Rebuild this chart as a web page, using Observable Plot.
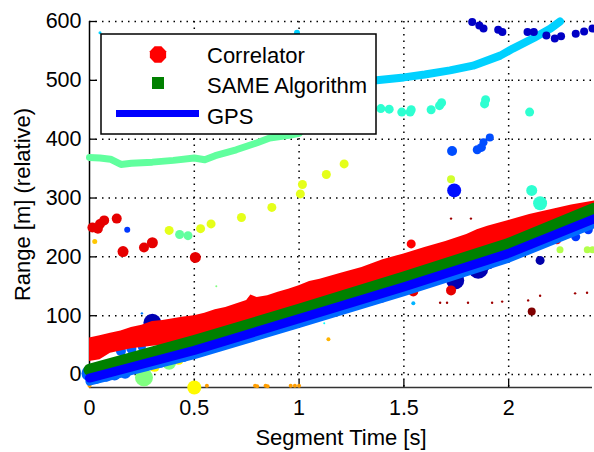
<!DOCTYPE html>
<html><head><meta charset="utf-8">
<script src="https://cdn.jsdelivr.net/npm/d3@7"></script>
<script src="https://cdn.jsdelivr.net/npm/@observablehq/plot@0.6"></script>
<style>
body{margin:0;background:#fff;}
#wrap{width:594px;height:452px;}
</style></head><body><div id="wrap"></div>
<script>
// ---------- axes ----------
const xDomain = [0, 2.4];
const yDomain = [-22, 600];
const xTicks = [0, 0.5, 1, 1.5, 2];
const xTickLabels = ["0", "0.5", "1", "1.5", "2"];
const yTicks = [0, 100, 200, 300, 400, 500, 600];
const yTickLabels = ["0", "100", "200", "300", "400", "500", "600"];
const xLabel = "Segment Time [s]";
const yLabel = "Range [m] (relative)";
const legendLabels = ["Correlator", "SAME Algorithm", "GPS"];

// jet colormap stops (level -> colour)
const jetStops = [0, 0.125, 0.375, 0.625, 0.875, 1];
const jetColors = ["#00008f", "#0000ff", "#00ffff", "#ffff00", "#ff0000", "#800000"];

// ---------- tracks ----------
const redX      = [0, 0.05, 0.1, 0.15, 0.2, 0.25, 0.3, 0.35, 0.4, 0.45, 0.5, 0.55, 0.6, 0.65, 0.7, 0.75, 0.77, 0.8, 0.85, 0.9, 0.95, 1.0, 1.05, 1.1, 1.2, 1.3, 1.4, 1.5, 1.6, 1.7, 1.8, 1.85, 1.9, 2.0, 2.1, 2.2, 2.3, 2.41];
const redTop    = [62, 66, 70, 74, 80, 84, 90, 92, 95, 98, 100, 104, 110, 114, 120, 126, 135, 131, 134, 140, 145, 151, 158, 162, 172, 182, 195, 205, 216, 226, 238, 246, 252, 262, 272, 280, 288, 295];
const redBottom = [22, 25, 36, 40, 44, 46, 48, 50, 53, 52, 57, 62, 67, 72, 78, 83, 85, 88, 94, 99, 105, 110, 115, 121, 132, 143, 154, 165, 176, 188, 199, 205, 211, 222, 237, 251, 266, 282];

const sameTrack = [[0, 8], [0.5, 57], [1.0, 110], [1.5, 165], [2.0, 222], [2.41, 282]];
const gpsTrack  = [[0, -6], [0.5, 41], [1.0, 95], [1.5, 149], [2.0, 206], [2.41, 265]];
const lowTrack  = [[0, -12], [0.5, 33], [1.0, 86], [1.5, 140], [2.0, 197], [2.41, 256]];
const lowLevel = 0.23;

const mintCurve = [[0, 369], [0.05, 368], [0.1, 366], [0.15, 357], [0.2, 359], [0.3, 361], [0.4, 364], [0.5, 368], [0.55, 365], [0.6, 372], [0.7, 382], [0.8, 394], [0.86, 402], [0.96, 407], [1.0, 410]];
const mintLevel = 0.47;
const cyanCurve = [[1.3, 497], [1.37, 500], [1.5, 505], [1.6, 510], [1.72, 517], [1.83, 525], [1.96, 542], [2.02, 554], [2.12, 572], [2.2, 588], [2.245, 600]];
const cyanLevel = 0.33;

// ---------- scattered candidate points: [x, y, level, magnitude] ----------
const leftSpots = [
  [0.014, 250, 0.9, 5], [0.04, 248, 0.9, 5], [0.05, 256, 0.9, 5], [0.07, 262, 0.9, 5], [0.13, 265, 0.9, 5],
  [0.025, 226, 0.68, 2.5], [0.18, 246, 0.18, 3], [0.16, 209, 0.9, 5.5], [0.26, 216, 0.9, 5], [0.30, 224, 0.9, 5.5], [0.505, 199, 0.9, 5.5],
  [0.43, 238, 0.47, 4.5], [0.47, 236, 0.47, 4.5], [0.05, 581, 0.33, 1.5], [0.99, 581, 0.33, 3]
];
const yellowSpots = [
  [0.38, 245, 0.6, 4.5], [0.53, 248, 0.6, 4.5], [0.58, 256, 0.6, 4.5], [0.725, 267, 0.6, 4.5], [0.87, 284, 0.6, 4.5],
  [1.006, 307, 0.6, 4.5], [1.016, 323, 0.6, 4.5], [1.13, 340, 0.6, 4.5], [1.215, 358, 0.6, 4.5]
];
const tealSpots = [
  [1.39, 452, 0.42, 4.5], [1.43, 451, 0.42, 4.5], [1.49, 446, 0.42, 4.5], [1.53, 446, 0.42, 4.5], [1.535, 450, 0.42, 4.5],
  [1.63, 450, 0.42, 4.5], [1.67, 457, 0.42, 4.5], [1.68, 462, 0.42, 4.5], [1.89, 467, 0.42, 4.5], [1.885, 460, 0.42, 4.5], [2.10, 446, 0.42, 4.5],
  [2.11, 313, 0.42, 5.5], [2.15, 291, 0.42, 7]
];
const blueSpots = [
  [1.73, 380, 0.2, 5], [1.85, 382, 0.2, 4.5], [1.87, 386, 0.2, 4.5], [1.88, 395, 0.2, 4], [1.91, 403, 0.2, 4],
  [1.74, 313, 0.14, 7], [1.725, 332, 0.58, 4], [2.32, 234, 0.18, 4.5], [2.38, 246, 0.18, 4.5]
];
const navySpots = [
  [1.826, 599, 0.06, 4], [1.86, 593, 0.06, 4], [1.88, 588, 0.06, 4], [1.95, 586, 0.06, 4], [1.97, 582, 0.06, 4],
  [2.09, 582, 0.06, 4], [2.12, 582, 0.06, 4], [2.18, 576, 0.06, 4], [2.22, 571, 0.06, 4], [2.25, 575, 0.06, 4],
  [2.32, 579, 0.06, 4], [2.36, 583, 0.06, 4], [2.40, 588, 0.06, 4], [2.15, 194, 0.03, 4.5]
];
const rightSpots = [
  [1.535, 222, 0.875, 4.5], [2.23, 229, 0.875, 4.5],
  [2.10, 212, 0.55, 3.5], [2.245, 212, 0.55, 3.5], [2.375, 212, 0.55, 3.5], [2.40, 212, 0.55, 3.5],
  [2.11, 107, 1.0, 4],
  [1.673, 122, 0.97, 1.2], [1.706, 122, 0.97, 1.2], [1.725, 265, 0.97, 1.2], [1.82, 265, 0.97, 1.2], [1.806, 122, 0.97, 1.2], [1.921, 122, 0.97, 1.2],
  [1.969, 124, 0.97, 1.2], [2.093, 126, 0.97, 1.2], [2.15, 134, 0.97, 1.2], [2.317, 138, 0.97, 1.2], [2.374, 139, 0.97, 1.2]
];
const trackSpots = [
  [1.745, 160, 0.04, 9], [1.855, 180, 0.04, 10], [1.90, 194, 0.04, 9], [1.88, 189, 0.04, 8],
  [1.25, 122, 0.04, 7], [1.39, 134, 0.04, 7], [1.44, 143, 0.04, 7], [1.50, 151, 0.04, 7], [1.545, 148, 0.04, 6], [1.28, 122, 0.04, 6], [0.97, 87, 0.04, 6],
  [1.73, 182, 0.82, 5], [1.26, 129, 0.82, 5], [1.35, 136, 0.82, 5.5],
  [1.725, 143, 0.9, 5], [1.545, 141, 0.9, 5],
  [1.35, 121, 0.3, 2], [1.545, 121, 0.3, 2], [0.96, 87, 0.38, 1], [1.12, 87, 0.38, 1], [1.14, 60, 0.7, 2]
];
const bottomSpots = [
  [0.56, -19, 0.72, 2], [0.79, -19, 0.72, 2], [0.84, -19, 0.72, 2], [0.96, -19, 0.72, 2], [0.98, -19, 0.72, 2], [1.0, -19, 0.72, 2],
  [0.80, -20, 0.72, 2], [0.85, -20, 0.72, 2], [0.0, -19, 0.72, 2], [0.50, -22, 0.63, 7]
];
const originSpots = [
  [0.30, 88, 0.04, 9], [0.56, 42, 0.36, 5], [0.42, 27, 0.36, 5], [0.31, 14, 0.63, 5.5], [0.425, 25, 0.63, 5],
  [0.26, -5, 0.5, 9], [0.38, 20, 0.5, 7], [0.61, 49, 0.5, 6], [0.605, 150, 0.5, 1], [0.25, 104, 0.25, 1.2],
  [0.0, 2, 0.22, 8], [0.03, -4, 0.22, 7], [0.08, -2, 0.22, 6], [0.12, 0, 0.22, 6], [0.17, 3, 0.22, 6],
  [0.15, 40, 0.22, 5], [0.2, 44, 0.22, 5], [0.25, 47, 0.22, 4], [0.34, 20, 0.22, 5], [0.45, 30, 0.22, 5]
];

const spots = [...leftSpots, ...yellowSpots, ...tealSpots, ...blueSpots, ...navySpots, ...rightSpots, ...trackSpots, ...bottomSpots, ...originSpots];
const redBand = redX.map((x, i) => ({x, lo: redBottom[i], hi: redTop[i]}));

const font = '"Liberation Sans", Arial, Helvetica, sans-serif';
const dotted = {stroke: "#000", strokeWidth: 1.5, strokeDasharray: "1.5,5"};

const chart = Plot.plot({
  width: 594, height: 452,
  marginLeft: 89, marginRight: 2, marginTop: 21, marginBottom: 65,
  style: {fontFamily: font, fontSize: "21px", background: "#fff", color: "#000", overflow: "visible"},
  x: {domain: xDomain, axis: null},
  y: {domain: yDomain, axis: null},
  color: {type: "linear", domain: jetStops, range: jetColors},
  r: {type: "linear", domain: [0, 10], range: [0, 10]},
  marks: [
    Plot.ruleY(yTicks, {y: d => d, ...dotted}),
    Plot.ruleX(xTicks.slice(1), {x: d => d, ...dotted}),
    Plot.ruleX([xDomain[0]], {stroke: "#000", strokeWidth: 1.5}),
    Plot.ruleY([yDomain[0]], {stroke: "#333", strokeWidth: 1.5}),
    Plot.tickX(xTicks, {x: d => d, insetTop: 359, stroke: "#000", strokeWidth: 1.3}),
    Plot.tickY(yTicks, {y: d => d, insetRight: 496, stroke: "#000", strokeWidth: 1.3}),
    Plot.axisX({ticks: xTicks, tickFormat: d => xTickLabels[xTicks.indexOf(d)], tickSize: 0, tickPadding: 12, fontSize: 21.5, label: null}),
    Plot.axisY({ticks: yTicks, tickFormat: d => yTickLabels[yTicks.indexOf(d)], tickSize: 0, tickPadding: 8, fontSize: 21.5, label: null}),
    Plot.text([xLabel], {frameAnchor: "bottom", dy: 50, fontSize: 22, textAnchor: "middle", lineAnchor: "middle"}),
    Plot.text([yLabel], {frameAnchor: "left", rotate: -90, dx: -67, fontSize: 22, textAnchor: "middle", lineAnchor: "middle"}),
    Plot.line(mintCurve, {x: d => d[0], y: d => d[1], stroke: () => mintLevel, strokeWidth: 7, strokeLinecap: "round"}),
    Plot.line(cyanCurve, {x: d => d[0], y: d => d[1], stroke: () => cyanLevel, strokeWidth: 8, strokeLinecap: "round"}),
    Plot.dot(spots, {x: d => d[0], y: d => d[1], fill: d => d[2], r: d => d[3], stroke: null}),
    Plot.line(lowTrack, {x: d => d[0], y: d => d[1], stroke: () => lowLevel, strokeWidth: 8}),
    Plot.areaY(redBand, {x: "x", y1: "lo", y2: "hi", fill: "#ff0000"}),
    Plot.line(sameTrack, {x: d => d[0], y: d => d[1], stroke: "#008000", strokeWidth: 12}),
    Plot.line(gpsTrack, {x: d => d[0], y: d => d[1], stroke: "#0000ff", strokeWidth: 9})
  ]
});

// legend inside plot (upper left)
const svg = d3.select(chart);
const lg = svg.append("g").attr("font-family", font).attr("font-size", 22).attr("text-anchor", "start");
lg.append("rect").attr("x", 101).attr("y", 34).attr("width", 275).attr("height", 100)
  .attr("fill", "#fff").attr("stroke", "#000").attr("stroke-width", 1.5);
const oct = d3.range(8).map(i => { const a = Math.PI / 8 + i * Math.PI / 4; return [158 + 8.8 * Math.cos(a), 54.5 + 8.8 * Math.sin(a)]; });
lg.append("polygon").attr("points", oct.map(p => p.join(",")).join(" ")).attr("fill", "#ff0000");
lg.append("rect").attr("x", 152).attr("y", 77).attr("width", 12).attr("height", 12).attr("fill", "#008000");
lg.append("line").attr("x1", 116).attr("x2", 199).attr("y1", 113.5).attr("y2", 113.5).attr("stroke", "#0000ff").attr("stroke-width", 7);
const baselines = [63, 93, 123.5];
legendLabels.forEach((t, i) => lg.append("text").attr("x", 207).attr("y", baselines[i]).attr("text-anchor", "start").attr("fill", "#000").text(t));

document.getElementById("wrap").appendChild(chart);
</script>
</body></html>
